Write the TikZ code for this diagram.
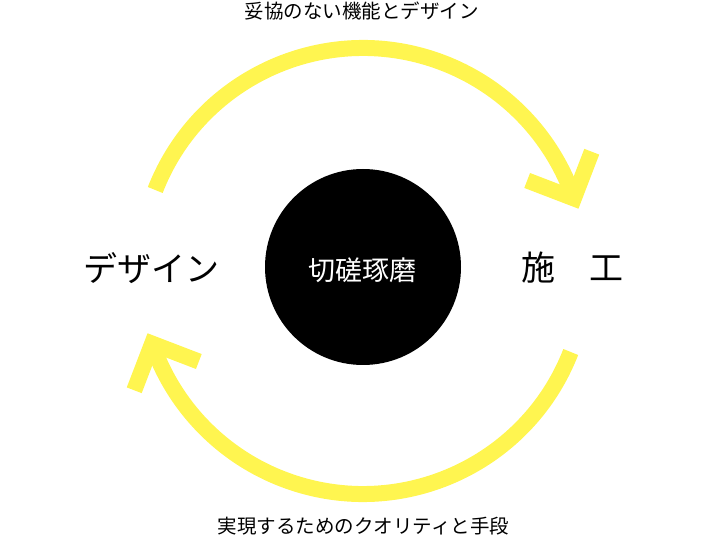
\documentclass[tikz,border=0pt]{standalone}
\usepackage{fontspec}
\newfontfamily\jp{Noto Sans CJK JP}
\usetikzlibrary{calc}
\definecolor{arrowyellow}{RGB}{255,245,80}
\begin{document}
\begin{tikzpicture}[x=1pt,y=1pt,
  cycarc/.style={draw=arrowyellow, line width=16pt, line cap=butt},
  chev/.style={draw=arrowyellow, line width=16pt, line cap=butt, line join=miter},
  biglbl/.style={font=\jp\fontsize{34}{40}\selectfont, inner sep=0pt},
  smalllbl/.style={font=\jp\fontsize{19.5}{23}\selectfont, inner sep=0pt}]
\useasboundingbox (0,0) rectangle (726,536);
\coordinate (c) at (363,265);
\node[circle, fill=black, minimum size=196pt, inner sep=0pt] (core) at (363,269) {};
\node[font=\jp\fontsize{27}{32}\selectfont, text=white, inner sep=0pt] (coretxt) at (362,266) {切磋琢磨};
\node[biglbl] (design) at (151.5,268) {デザイン};
\node[biglbl] (build) at (572,268) {施　工};
\node[smalllbl] (toptxt) at (361.5,525) {妥協のない機能とデザイン};
\node[smalllbl] (bottxt) at (363.5,10) {実現するためのクオリティと手段};
% top arc
\coordinate (s1) at ($(c)+(158.7:223)$);
\coordinate (t1) at ($(c)+(19:223)$);
\draw[cycarc] (s1) arc[start angle=158.7, end angle=19, radius=223];
\coordinate (a1) at ($(t1)+(69:50)$);
\coordinate (b1) at ($(t1)+(159:50)$);
\draw[chev] (a1) -- (t1) -- (b1);
% bottom arc
\coordinate (s2) at ($(c)+(-21.3:223)$);
\coordinate (t2) at ($(c)+(-161:223)$);
\draw[cycarc] (s2) arc[start angle=-21.3, end angle=-161, radius=223];
\coordinate (a2) at ($(t2)+(249:50)$);
\coordinate (b2) at ($(t2)+(339:50)$);
\draw[chev] (a2) -- (t2) -- (b2);
\end{tikzpicture}
\end{document}
